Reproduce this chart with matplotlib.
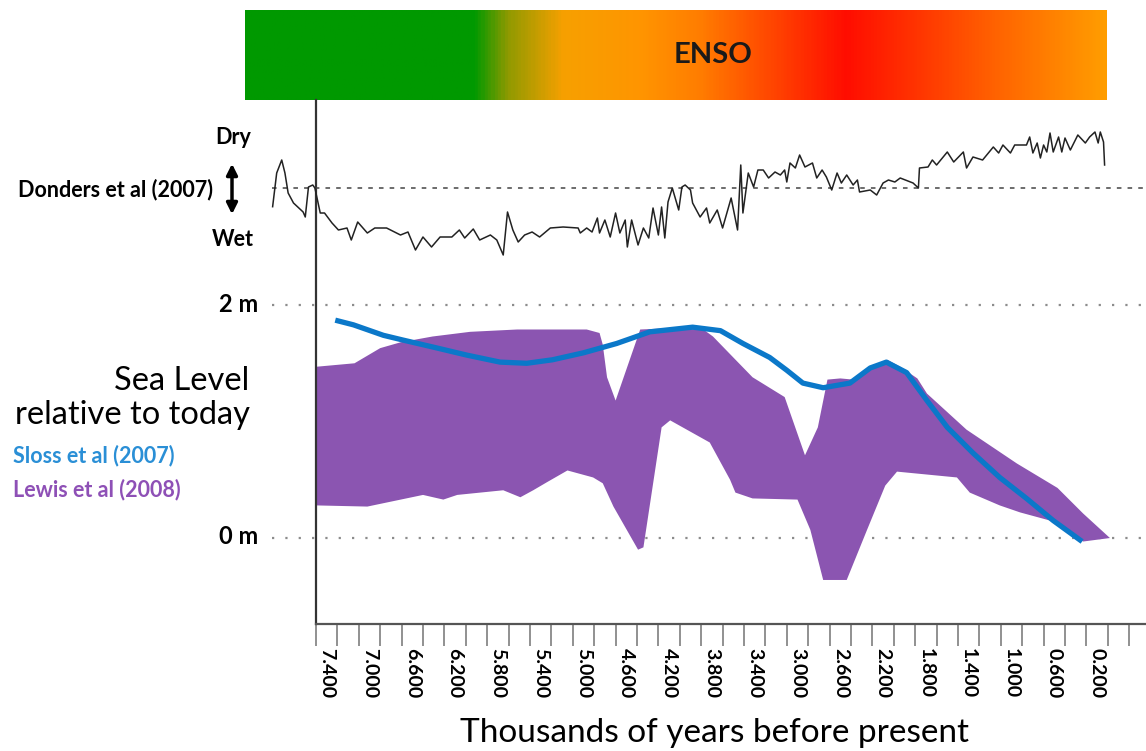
import numpy as np
import matplotlib
matplotlib.use("Agg")
import matplotlib.pyplot as plt
from matplotlib.colors import LinearSegmentedColormap

plt.rcParams['font.family'] = ['Lato', 'DejaVu Sans']

# Donders et al (2007) dry/wet index (kyr BP, index; 0 = dashed reference)
donders_age = [7.905, 7.867, 7.82, 7.79, 7.76, 7.71, 7.62, 7.60, 7.57, 7.53, 7.51, 7.48, 7.46, 7.42,
               7.35, 7.29, 7.21, 7.17, 7.11, 7.02, 6.95, 6.84, 6.71, 6.64, 6.57, 6.50, 6.42, 6.34,
               6.23, 6.16, 6.11, 6.03, 5.97, 5.87, 5.81, 5.75, 5.71, 5.66, 5.61, 5.55, 5.48, 5.41,
               5.31, 5.19, 5.05, 5.03, 4.97, 4.92, 4.87, 4.85, 4.80, 4.75, 4.70, 4.66, 4.61, 4.59,
               4.55, 4.49, 4.44, 4.39, 4.35, 4.30, 4.27, 4.24, 4.21, 4.17, 4.11, 4.08, 4.05, 4.00,
               3.98, 3.91, 3.85, 3.82, 3.75, 3.70, 3.62, 3.56, 3.53, 3.51, 3.46, 3.41, 3.37, 3.32,
               3.27, 3.21, 3.16, 3.12, 3.10, 3.07, 3.02, 2.98, 2.93, 2.86, 2.82, 2.77, 2.73, 2.68,
               2.63, 2.59, 2.54, 2.48, 2.44, 2.42, 2.32, 2.26, 2.20, 2.15, 2.09, 2.04, 1.92, 1.87,
               1.86, 1.78, 1.74, 1.70, 1.60, 1.54, 1.45, 1.42, 1.36, 1.27, 1.17, 1.12, 1.08, 1.01,
               0.97, 0.86, 0.83, 0.80, 0.76, 0.73, 0.70, 0.67, 0.64, 0.61, 0.56, 0.53, 0.50, 0.45,
               0.38, 0.31, 0.27, 0.22, 0.19, 0.17, 0.14, 0.13]
donders_idx = [-1.87, 1.5, 2.8, 1.5, -0.5, -1.5, -2.4, -2.9, 0.1, 0.3, 0.0, -1.5, -2.5, -2.5,
               -3.5, -4.2, -4.0, -5.2, -3.4, -4.5, -4.0, -4.0, -4.7, -4.4, -6.2, -4.9, -5.9, -4.9,
               -4.9, -4.2, -5.0, -4.1, -5.2, -4.7, -5.2, -6.7, -2.4, -4.2, -5.4, -4.7, -4.4, -4.9,
               -4.0, -3.9, -4.0, -4.5, -4.0, -4.4, -3.0, -4.5, -3.2, -4.9, -2.5, -4.5, -3.2, -5.9,
               -3.2, -5.7, -4.0, -5.0, -2.0, -4.7, -1.9, -5.0, -1.4, 0.0, -2.2, 0.1, 0.3, -0.2,
               -1.5, -2.9, -2.0, -3.5, -2.2, -4.0, -1.0, -4.2, 2.3, -2.5, 1.5, 0.1, 1.8, 1.8,
               1.0, 1.6, 1.3, 1.8, 0.6, 2.5, 2.0, 3.3, 2.1, 2.5, 1.0, 1.8, 1.1, -0.2,
               1.5, 0.5, 1.3, 0.3, 0.8, -0.4, -0.2, -0.7, 0.5, 0.8, 0.6, 1.0, 0.5, 0.0,
               2.0, 2.1, 2.8, 2.3, 3.6, 2.6, 3.6, 2.0, 3.1, 2.8, 4.1, 3.5, 4.3, 3.5,
               4.3, 4.3, 5.1, 3.5, 4.5, 3.0, 4.3, 3.6, 5.5, 3.6, 5.1, 3.6, 5.0, 3.8,
               5.3, 4.5, 5.1, 5.6, 4.5, 5.6, 4.6, 2.3]

# Sloss et al (2007) sea level curve (kyr BP, m)
sloss_age = [7.32, 7.15, 6.87, 6.69, 6.41, 6.09, 5.78, 5.53, 5.29, 5.00, 4.69, 4.38, 3.98, 3.72,
             3.51, 3.26, 3.10, 2.95, 2.76, 2.51, 2.32, 2.17, 1.98, 1.79, 1.60, 1.36, 1.11, 0.86,
             0.61, 0.34]
sloss_m = [1.87, 1.83, 1.74, 1.70, 1.64, 1.57, 1.51, 1.50, 1.53, 1.59, 1.67, 1.77, 1.81, 1.78,
           1.67, 1.55, 1.44, 1.33, 1.29, 1.33, 1.46, 1.51, 1.42, 1.18, 0.95, 0.73, 0.52, 0.34,
           0.15, -0.03]

# Lewis et al (2008) sea level envelope (kyr BP, m)
lewis_upper_age = [7.50, 7.14, 6.90, 6.71, 6.41, 6.06, 5.62, 4.97, 4.85, 4.82, 4.78, 4.70, 4.47,
                   4.22, 3.88, 3.79, 3.60, 3.42, 3.12, 2.93, 2.81, 2.72, 2.60, 2.48, 2.32, 2.16,
                   2.04, 1.88, 1.79, 1.42, 0.95, 0.57, 0.33, 0.08]
lewis_upper_m = [1.47, 1.50, 1.63, 1.68, 1.73, 1.77, 1.79, 1.79, 1.76, 1.66, 1.38, 1.18, 1.79,
                 1.80, 1.79, 1.73, 1.55, 1.38, 1.21, 0.71, 0.95, 1.36, 1.37, 1.36, 1.46, 1.53,
                 1.47, 1.37, 1.24, 0.93, 0.64, 0.43, 0.21, 0.0]
lewis_lower_age = [7.50, 7.02, 6.50, 6.31, 6.18, 5.75, 5.59, 5.47, 5.34, 5.15, 4.91, 4.82, 4.72,
                   4.49, 4.44, 4.27, 4.19, 3.82, 3.63, 3.58, 3.42, 3.00, 2.88, 2.76, 2.54, 2.35,
                   2.18, 2.07, 1.51, 1.39, 1.11, 0.92, 0.64, 0.33, 0.08]
lewis_lower_m = [0.28, 0.27, 0.37, 0.33, 0.37, 0.41, 0.35, 0.41, 0.48, 0.58, 0.52, 0.47, 0.27,
                 -0.10, -0.08, 0.95, 1.01, 0.82, 0.50, 0.39, 0.34, 0.33, 0.07, -0.36, -0.36, 0.07,
                 0.45, 0.57, 0.52, 0.39, 0.28, 0.22, 0.15, -0.03, 0.0]

tick_labels = ['7.400', '7.000', '6.600', '6.200', '5.800', '5.400', '5.000', '4.600', '4.200',
               '3.800', '3.400', '3.000', '2.600', '2.200', '1.800', '1.400', '1.000', '0.600',
               '0.200']
label_ages = [float(t) for t in tick_labels]

W, H = 1146, 751
fig = plt.figure(figsize=(W / 100, H / 100), dpi=100)


def box(x0, y0, x1, y1):
    # pixel box (top-left origin) -> figure fraction rect
    return [x0 / W, 1 - y1 / H, (x1 - x0) / W, (y1 - y0) / H]


# ENSO gradient bar
enso_cmap = LinearSegmentedColormap.from_list('enso', [
    (0.0, '#009900'), (0.265, '#009900'), (0.304, '#8f9a00'), (0.369, '#f7a000'),
    (0.458, '#ff9500'), (0.528, '#ff7d00'), (0.698, '#ff0d00'), (0.783, '#ff3500'),
    (0.876, '#ff6400'), (1.0, '#ff9d00')])
bar_ax = fig.add_axes(box(245, 10, 1107, 100))
bar_ax.imshow(np.linspace(0, 1, 600)[None, :], aspect='auto', cmap=enso_cmap)
bar_ax.axis('off')
bar_ax.text(0.543, 0.5, 'ENSO', transform=bar_ax.transAxes, ha='center', va='center',
            fontsize=21, fontweight='bold', color='#1a1a1a')

# main sea level axes
ax = fig.add_axes(box(316, 100, 1146, 624))
ax.set_xlim(7.5, -0.257)
ax.set_ylim(-0.738, 3.76)
for s in ['top', 'right']:
    ax.spines[s].set_visible(False)
ax.spines['left'].set_color('#333333')
ax.spines['left'].set_linewidth(1.6)
ax.spines['bottom'].set_color('#555555')
ax.spines['bottom'].set_linewidth(1.6)
ax.set_yticks([])

ax.set_xticks(np.arange(7.5, -0.2, -0.2))
ax.set_xticklabels([])
ax.tick_params(axis='x', which='major', length=16, width=1.3, color='#888888', direction='out')
ax.set_xticks(label_ages, minor=True)
ax.set_xticklabels(tick_labels, minor=True, rotation=270, fontsize=14, fontweight='bold')
ax.tick_params(axis='x', which='minor', length=0, pad=17)
ax.set_xlabel('Thousands of years before present', fontsize=24)
ax.xaxis.set_label_coords((715 - 316) / 830, -(733 - 624) / 524, transform=ax.transAxes)
ax.xaxis.label.set_va('center')

ax.fill(lewis_upper_age + lewis_lower_age[::-1], lewis_upper_m + lewis_lower_m[::-1],
        color='#8b55b1', lw=0, zorder=2)
ax.plot(sloss_age, sloss_m, color='#0b78c9', lw=3.8, solid_capstyle='butt', zorder=3)

for lvl in [0, 2]:
    ax.plot([7.91, -0.26], [lvl, lvl], color='#8c8c8c', lw=1.6, ls=(0, (1, 5)),
            clip_on=False, zorder=1)

# Donders record on its own axes
dax = fig.add_axes(box(260, 120, 1146, 270))
dax.set_xlim(8.023, -0.257)
dax.set_ylim(-8.2, 6.8)
dax.axis('off')
dax.patch.set_alpha(0)
dax.plot([7.91, -0.26], [0, 0], color='#444444', lw=1.1, ls=(0, (3, 4)))
dax.plot(donders_age, donders_idx, color='#222222', lw=1.1)

# left side annotations
fig.text(233 / W, 1 - 137 / H, 'Dry', ha='center', va='center', fontsize=15.5, fontweight='bold')
fig.text(233 / W, 1 - 240 / H, 'Wet', ha='center', va='center', fontsize=15.5, fontweight='bold')
fig.text(213 / W, 1 - 190 / H, 'Donders et al (2007)', ha='right', va='center', fontsize=15.5,
         fontweight='bold')
fig.patches.append(matplotlib.patches.FancyArrowPatch(
    (232 / W, 1 - 161 / H), (232 / W, 1 - 217 / H), transform=fig.transFigure,
    arrowstyle='<|-|>', mutation_scale=16, lw=2.5, color='black'))
fig.text(258 / W, 1 - 304 / H, '2 m', ha='right', va='center', fontsize=17, fontweight='bold')
fig.text(258 / W, 1 - 537 / H, '0 m', ha='right', va='center', fontsize=17, fontweight='bold')
fig.text(249 / W, 1 - 381 / H, 'Sea Level', ha='right', va='center', fontsize=23.5)
fig.text(250 / W, 1 - 415 / H, 'relative to today', ha='right', va='center', fontsize=23.5)
fig.text(13 / W, 1 - 456 / H, 'Sloss et al (2007)', ha='left', va='center', fontsize=15.5,
         fontweight='bold', color='#2a8fd6')
fig.text(13 / W, 1 - 490 / H, 'Lewis et al (2008)', ha='left', va='center', fontsize=15.5,
         fontweight='bold', color='#8e50b6')

fig.savefig('out.png', dpi=100)
